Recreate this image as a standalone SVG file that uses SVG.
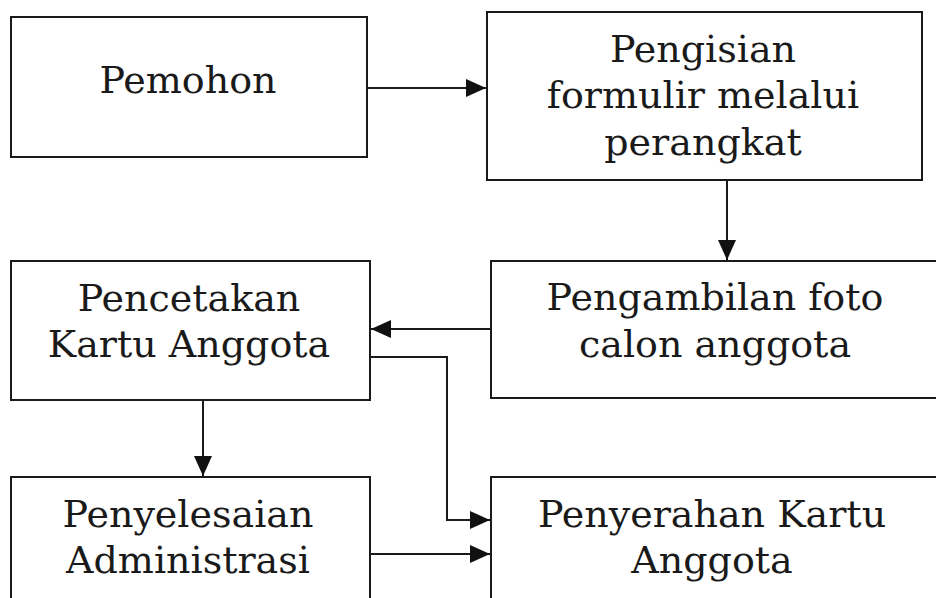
<svg xmlns="http://www.w3.org/2000/svg" width="936" height="598" viewBox="0 0 936 598">
<style>
.box{fill:#fff;stroke:#1a1a1a;stroke-width:2}
.lbl{font-family:"DejaVu Serif","Liberation Serif",serif;font-size:38px;fill:#1a1a1a;text-anchor:middle}
.conn{fill:none;stroke:#1a1a1a;stroke-width:2;marker-end:url(#arr)}
</style>
<defs>
<marker id="arr" markerUnits="userSpaceOnUse" markerWidth="20" markerHeight="18" refX="20" refY="9" orient="auto">
<path d="M0,0 L20,9 L0,18 z" fill="#111"/>
</marker>
</defs>
<rect width="936" height="598" fill="#fff"/>
<g id="connectors">
<path class="conn" d="M367,88 H486"/>
<path class="conn" d="M727,180 V260"/>
<path class="conn" d="M491,329 H371"/>
<path class="conn" d="M370,357 H447 V520 H490"/>
<path class="conn" d="M203,400 V476"/>
<path class="conn" d="M370,554 H490"/>
</g>
<g id="pemohon">
<rect class="box" x="11" y="17" width="356" height="140"/>
<text class="lbl" x="188" y="93">Pemohon</text>
</g>
<g id="pengisian">
<rect class="box" x="487" y="12" width="435" height="168"/>
<text class="lbl" x="703" y="62">Pengisian</text>
<text class="lbl" x="703" y="108">formulir melalui</text>
<text class="lbl" x="703" y="155">perangkat</text>
</g>
<g id="pengambilan">
<rect class="box" x="491" y="261" width="460" height="137"/>
<text class="lbl" x="715" y="310">Pengambilan foto</text>
<text class="lbl" x="715" y="357">calon anggota</text>
</g>
<g id="pencetakan">
<rect class="box" x="11" y="261" width="359" height="139"/>
<text class="lbl" x="189" y="311">Pencetakan</text>
<text class="lbl" x="189" y="357">Kartu Anggota</text>
</g>
<g id="penyelesaian">
<rect class="box" x="11" y="477" width="359" height="140"/>
<text class="lbl" x="188" y="527">Penyelesaian</text>
<text class="lbl" x="188" y="573">Administrasi</text>
</g>
<g id="penyerahan">
<rect class="box" x="491" y="477" width="460" height="140"/>
<text class="lbl" x="712" y="527">Penyerahan Kartu</text>
<text class="lbl" x="712" y="573">Anggota</text>
</g>
</svg>
